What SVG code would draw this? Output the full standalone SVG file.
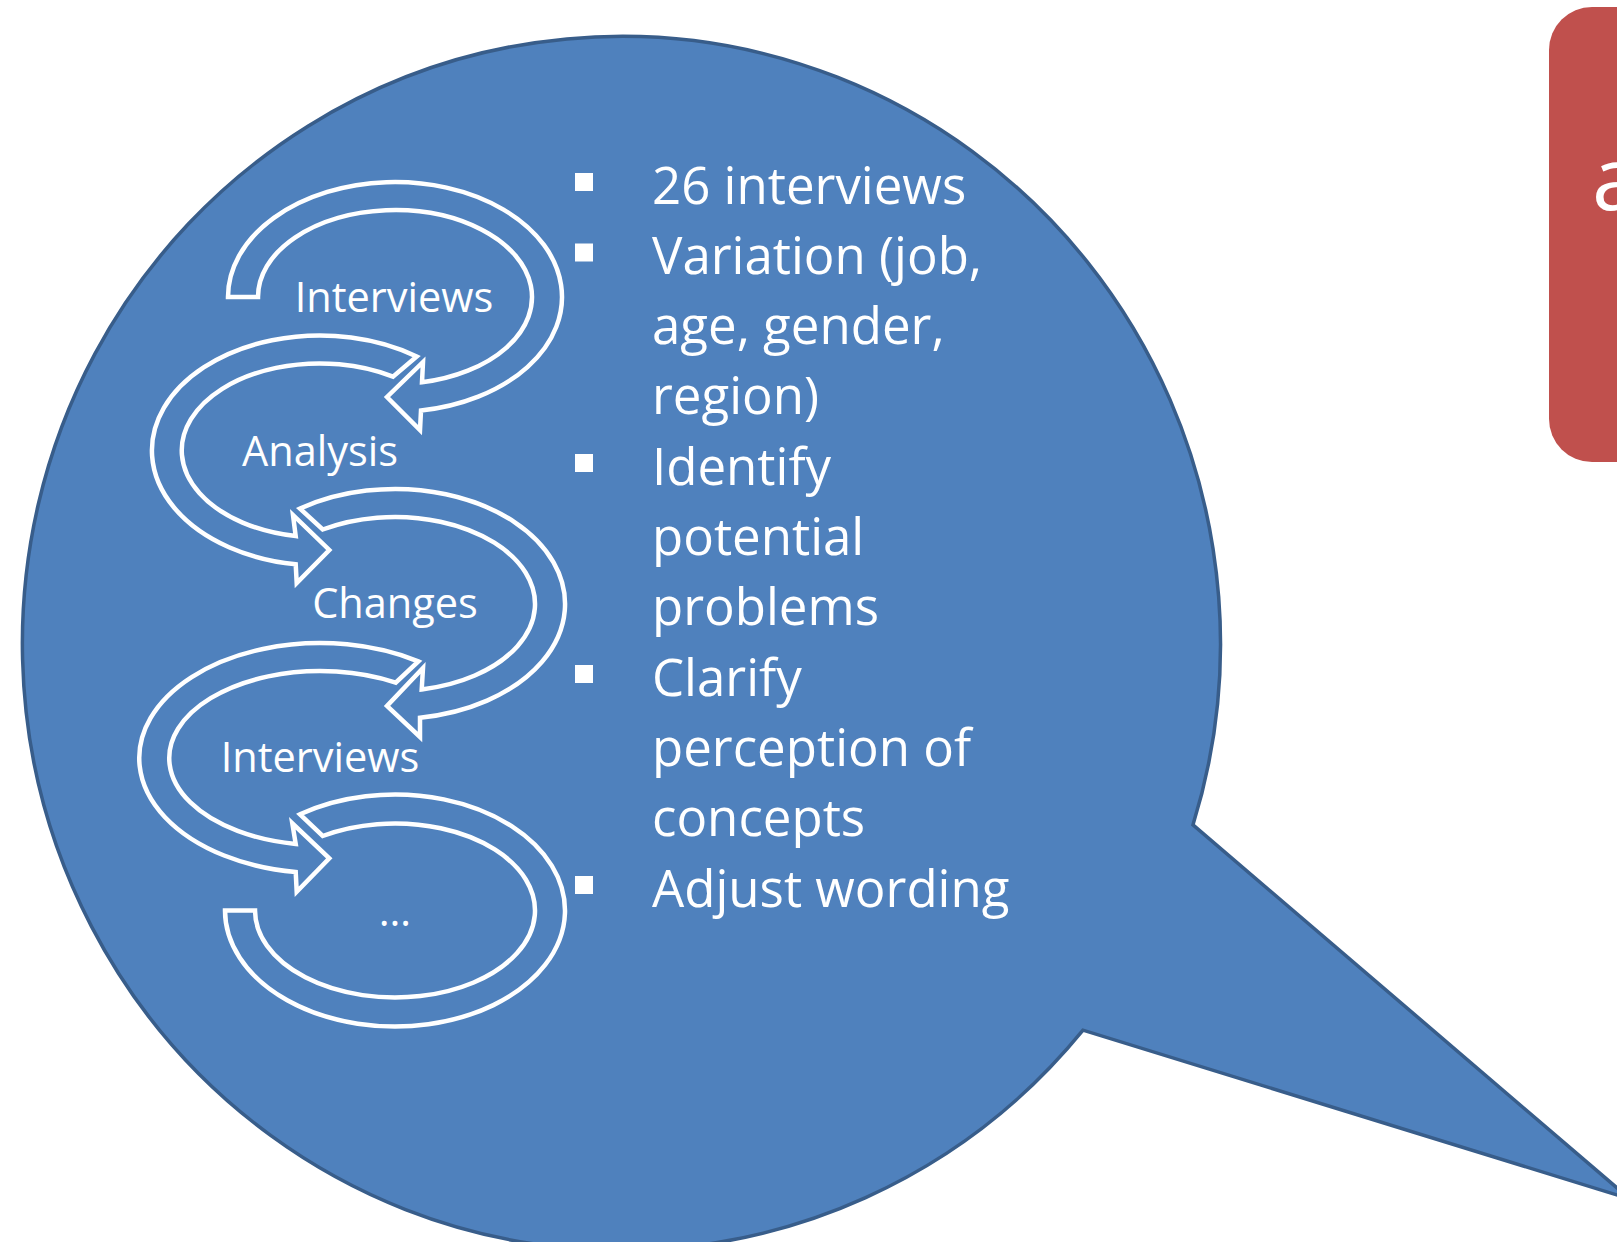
<svg xmlns="http://www.w3.org/2000/svg" width="1617" height="1242" viewBox="0 0 1617 1242">
<style>
.bubble{fill:#4F81BD;stroke:#385D8A;stroke-width:3.5;stroke-linejoin:miter}
.arc{fill:none;stroke:#FFFFFF;stroke-width:4.5;stroke-linejoin:miter}
.lbl{font-family:"Open Sans","Noto Sans",sans-serif;font-size:41.5px;fill:#FFFFFF;text-anchor:middle}
.bul{font-family:"Open Sans","Noto Sans",sans-serif;font-size:51px;fill:#FFFFFF}
.sq{fill:#FFFFFF}
</style>
<rect x="0" y="0" width="1617" height="1242" fill="#FFFFFF"/>
<g id="redbox">
<rect x="1549" y="7" width="140" height="455" rx="43" ry="43" fill="#C0504D"/>
<text x="1592" y="210" font-family="Open Sans, Noto Sans, sans-serif" font-size="88" fill="#FFFFFF">a</text>
</g>
<g id="bubble">
<path class="bubble" d="M 1193 824.8 A 599 607 0 1 0 1083 1030.2 L 1630 1199 Z"/>
</g>
<g id="connectors"></g>
<g id="step1">
<path class="arc" d="M 228 297 A 167 115 0 1 1 421 410.6 L 420 430 L 387 397 L 423 362 L 422 382.3 A 137 87 0 1 0 258 297 Z"/>
<text class="lbl" x="394" y="312">Interviews</text>
</g>
<g id="step2">
<path class="arc" d="M 416.7 356.5 A 168 115 0 1 0 295.7 564.3 L 296.7 583 L 329.3 550 L 293 515 L 295.7 536.1 A 138 87 0 1 1 393 376.7 Z"/>
<text class="lbl" x="320" y="465.5">Analysis</text>
</g>
<g id="step3">
<path class="arc" d="M 300 508.6 A 170 115 0 1 1 420 717.7 L 420 737 L 387 706 L 423 668 L 421.7 689.4 A 140 87 0 1 0 322.7 529.5 Z"/>
<text class="lbl" x="395" y="618">Changes</text>
</g>
<g id="step4">
<path class="arc" d="M 418.3 661.4 A 181 115 0 1 0 295.7 872 L 296.7 891.7 L 329.3 858.3 L 292.3 823.3 L 295.7 843.9 A 151 87 0 1 1 395.7 682.7 Z"/>
<text class="lbl" x="320" y="772">Interviews</text>
</g>
<g id="step5">
<path class="arc" d="M 300 814.3 A 170 116 0 1 1 225 910.5 L 255 910.5 A 140 87 0 1 0 322.7 836 Z"/>
<text class="lbl" x="395" y="926">…</text>
</g>
<g id="bullets">
<rect class="sq" x="575" y="173" width="18" height="18"/>
<rect class="sq" x="575" y="243.5" width="18" height="18"/>
<rect class="sq" x="575" y="454" width="18" height="18"/>
<rect class="sq" x="575" y="665" width="18" height="18"/>
<rect class="sq" x="575" y="876" width="18" height="18"/>
<text class="bul" x="652" y="203.5">26 interviews</text>
<text class="bul" x="652" y="274">Variation (job,</text>
<text class="bul" x="652" y="344">age, gender,</text>
<text class="bul" x="652" y="414">region)</text>
<text class="bul" x="652" y="484.5">Identify</text>
<text class="bul" x="652" y="555">potential</text>
<text class="bul" x="652" y="625">problems</text>
<text class="bul" x="652" y="695.5">Clarify</text>
<text class="bul" x="652" y="766">perception of</text>
<text class="bul" x="652" y="836">concepts</text>
<text class="bul" x="652" y="906.5">Adjust wording</text>
</g>
</svg>
